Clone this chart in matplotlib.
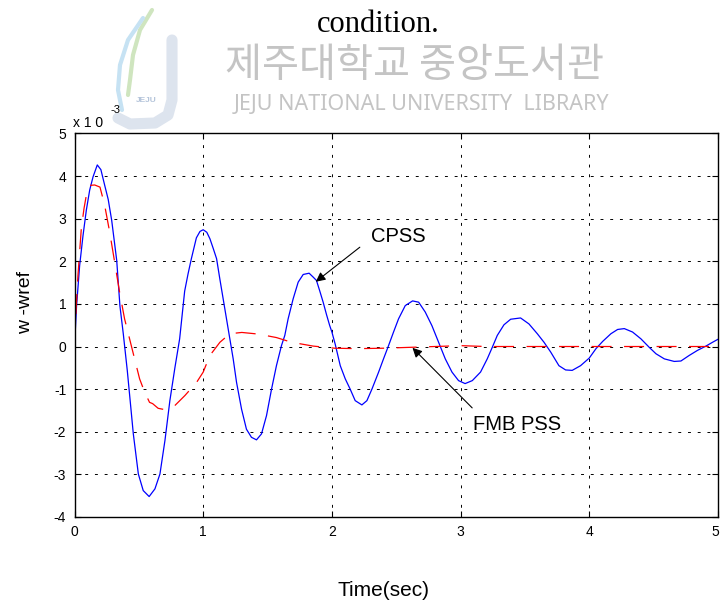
import matplotlib
matplotlib.use("Agg")
import matplotlib.pyplot as plt
import matplotlib.transforms as mtransforms
from matplotlib.lines import Line2D

# time (sec) and w - wref (x 1e-3)
cpss_t = [0.0, 0.016, 0.04, 0.066, 0.092, 0.118, 0.144, 0.177, 0.205, 0.234,
          0.262, 0.289, 0.328, 0.353, 0.379, 0.41, 0.435, 0.457, 0.496, 0.534,
          0.58, 0.625, 0.664, 0.703, 0.741, 0.78, 0.817, 0.856, 0.882, 0.908,
          0.947, 0.975, 1.0, 1.028, 1.052, 1.078, 1.104, 1.129, 1.155, 1.181,
          1.207, 1.233, 1.259, 1.298, 1.336, 1.375, 1.414, 1.453, 1.492, 1.531,
          1.569, 1.608, 1.634, 1.66, 1.699, 1.738, 1.777, 1.823, 1.854, 1.88,
          1.906, 1.932, 1.958, 1.983, 2.0, 2.026, 2.065, 2.104, 2.142, 2.181,
          2.233, 2.272, 2.311, 2.363, 2.401, 2.44, 2.479, 2.518, 2.57, 2.627,
          2.674, 2.725, 2.777, 2.829, 2.881, 2.933, 2.984, 3.035, 3.091, 3.155,
          3.207, 3.246, 3.285, 3.337, 3.389, 3.466, 3.531, 3.596, 3.648, 3.7,
          3.764, 3.816, 3.867, 3.932, 4.0, 4.052, 4.104, 4.168, 4.22, 4.272,
          4.336, 4.401, 4.466, 4.518, 4.583, 4.66, 4.712, 4.776, 4.841, 4.906,
          4.958, 5.0]
cpss_v = [0.0, 0.95, 1.9, 2.6, 3.2, 3.67, 3.98, 4.26, 4.15, 3.79,
          3.45, 2.96, 2.02, 0.95, 0.3, -0.56, -1.35, -2.05, -2.99, -3.38,
          -3.52, -3.34, -2.99, -2.2, -1.27, -0.5, 0.18, 1.3, 1.7, 2.06,
          2.55, 2.7, 2.74, 2.68, 2.53, 2.3, 2.06, 1.59, 1.12, 0.65,
          0.18, -0.29, -0.84, -1.47, -1.94, -2.13, -2.19, -2.05, -1.62, -1.0,
          -0.45, 0.02, 0.26, 0.65, 1.12, 1.51, 1.69, 1.72, 1.63, 1.55,
          1.3, 1.04, 0.75, 0.49, 0.34, 0.05, -0.45, -0.76, -1.0, -1.27,
          -1.37, -1.27, -1.0, -0.6, -0.29, 0.02, 0.34, 0.65, 0.96, 1.07,
          1.04, 0.81, 0.49, 0.1, -0.29, -0.6, -0.8, -0.87, -0.8, -0.6,
          -0.29, -0.02, 0.26, 0.51, 0.64, 0.67, 0.53, 0.3, 0.1, -0.13,
          -0.45, -0.55, -0.56, -0.45, -0.27, -0.05, 0.12, 0.3, 0.4, 0.42,
          0.34, 0.18, -0.02, -0.17, -0.29, -0.35, -0.34, -0.21, -0.09, 0.01,
          0.1, 0.17]

fmb_t = [0.0, 0.014, 0.027, 0.04, 0.053, 0.074, 0.092, 0.12, 0.157, 0.198,
         0.234, 0.273, 0.312, 0.35, 0.389, 0.428, 0.467, 0.506, 0.545, 0.583,
         0.607, 0.65, 0.7, 0.778, 0.858, 0.949, 1.0, 1.052, 1.13, 1.207,
         1.3, 1.401, 1.466, 1.569, 1.686, 1.854, 2.022, 2.2, 2.4, 2.6,
         2.8, 3.0, 3.2, 3.5, 4.0, 4.5, 5.0]
fmb_v = [0.0, 0.96, 1.67, 2.22, 2.77, 3.24, 3.55, 3.78, 3.79, 3.74,
         3.32, 2.69, 1.98, 1.28, 0.65, 0.18, -0.29, -0.76, -1.07, -1.31,
         -1.34, -1.45, -1.48, -1.39, -1.15, -0.84, -0.6, -0.21, 0.1, 0.3,
         0.33, 0.3, 0.27, 0.21, 0.1, 0.01, -0.04, -0.05, -0.04, -0.02,
         0.0, 0.02, 0.0, 0.0, 0.0, 0.0, 0.0]

x_ticks = [0, 1, 2, 3, 4, 5]
y_ticks = [-4, -3, -2, -1, 0, 1, 2, 3, 4, 5]

W, H = 720, 604


def px(x, y):
    # pixel position (from top left) to figure fraction
    return x / W, 1 - y / H


def watermark(fig):
    grey = '#c4c4c4'
    fig.text(*px(415, 66), '제주대학교 중앙도서관', fontsize=29, color=grey,
             ha='center', va='center', family=['Noto Sans CJK KR', 'DejaVu Sans'])
    fig.text(*px(421, 104), 'JEJU NATIONAL UNIVERSITY  LIBRARY', fontsize=15.5,
             color=grey, ha='center', va='center', family='Noto Sans')
    # rough logo: two swooshes and the J
    swoosh1 = [(152, 10), (140, 30), (133, 55), (130, 80), (128, 95)]
    swoosh2 = [(143, 18), (128, 40), (120, 65), (118, 90), (122, 110)]
    j_shape = [(172, 40), (172, 100), (168, 115), (155, 123), (130, 124), (118, 118)]
    for pts, col, lw in [(swoosh1, '#cfe5bf', 3), (swoosh2, '#c6e2f3', 3),
                         (j_shape, '#dde4ee', 8)]:
        xs = [px(a, b)[0] for a, b in pts]
        ys = [px(a, b)[1] for a, b in pts]
        fig.add_artist(Line2D(xs, ys, color=col, lw=lw, solid_capstyle='round'))
    fig.text(*px(146, 101), 'JEJU', fontsize=6, color='#b4c4da',
             ha='center', va='center', weight='bold')


def main():
    plt.rcParams['font.family'] = ['Liberation Sans', 'DejaVu Sans']
    plt.rcParams['axes.unicode_minus'] = False

    fig = plt.figure(figsize=(W / 100, H / 100), dpi=100)
    ax = fig.add_axes([74.5 / W, 87 / H, 643.5 / W, 383.6 / H])

    watermark(fig)
    fig.text(*px(378, 24), 'condition.', fontsize=22, ha='center', va='center',
             family='Liberation Serif')

    ax.plot(cpss_t, cpss_v, color='#0000ff', lw=0.9)
    ax.plot(fmb_t, fmb_v, color='#ff0000', lw=0.9, dashes=(16, 10))

    ax.set_xlim(0, 5)
    ax.set_ylim(-4, 5)
    ax.set_xticks(x_ticks)
    ax.set_yticks(y_ticks)
    ax.tick_params(direction='in', length=4, width=0.8, top=True, right=True,
                   labelsize=10, pad=6)
    ax.grid(True, color='black', lw=0.7, dashes=(3, 7))
    for s in ax.spines.values():
        s.set_linewidth(1.0)

    # last x label sits on the figure edge: pull it in a little
    last = ax.get_xticklabels()[-1]
    last.set_transform(last.get_transform() +
                       mtransforms.ScaledTranslation(-3 / 100, 0, fig.dpi_scale_trans))

    fig.text(*px(73, 127), 'x 1 0', fontsize=10, ha='left', va='baseline')
    fig.text(*px(110, 113), '-3', fontsize=8, ha='left', va='baseline')

    ax.annotate('', xy=(1.875, 1.52), xytext=(2.217, 2.33),
                arrowprops=dict(arrowstyle='-|>', color='black', lw=0.8,
                                mutation_scale=14, shrinkA=0, shrinkB=0))
    ax.text(2.3, 2.58, 'CPSS', fontsize=14.5, ha='left', va='center')
    ax.annotate('', xy=(2.626, -0.03), xytext=(3.09, -1.44),
                arrowprops=dict(arrowstyle='-|>', color='black', lw=0.8,
                                mutation_scale=14, shrinkA=0, shrinkB=0))
    ax.text(3.1, -1.83, 'FMB PSS', fontsize=14.5, ha='left', va='center')

    fig.text(*px(384, 590), 'Time(sec)', fontsize=15, ha='center', va='center')
    fig.text(*px(26, 302), 'w -wref', fontsize=14, ha='center', va='center',
             rotation=90)

    plt.savefig('out.png', dpi=100)


if __name__ == '__main__':
    main()
